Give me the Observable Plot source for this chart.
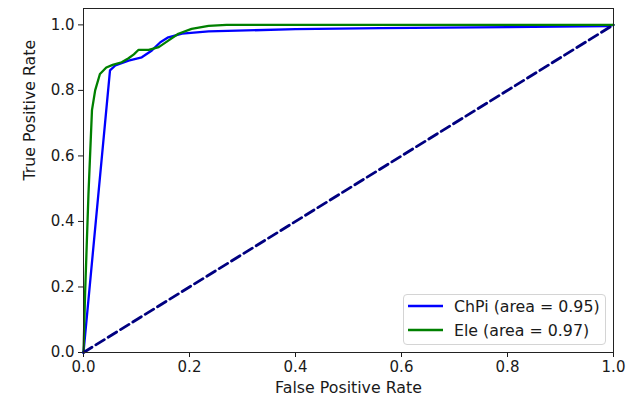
<!DOCTYPE html>
<html>
<head>
<meta charset="utf-8">
<script src="https://cdn.jsdelivr.net/npm/d3@7"></script>
<script src="https://cdn.jsdelivr.net/npm/@observablehq/plot@0.6"></script>
<style>
  html, body { margin: 0; padding: 0; background: #fff; }
  #wrap { position: relative; width: 635px; height: 401px; font-family: "DejaVu Sans", sans-serif; }
  #legend { position: absolute; left: 403px; top: 294px; width: 201px; height: 49px;
    border: 1px solid #d4d4d4; border-radius: 4px; background: rgba(255,255,255,0.8);
    font-size: 15.8px; color: #1a1a1a; }
  .item { position: absolute; left: 4px; height: 18px; display: flex; align-items: center; }
  .item svg { display: block; }
  .item span { margin-left: 11px; white-space: nowrap; }
</style>
</head>
<body>
<div id="wrap"></div>
<script>
// ROC curve data
const chpiFpr = [0, 0.05, 0.06, 0.085, 0.11, 0.129, 0.145, 0.16, 0.186, 0.236, 0.4, 0.56, 0.8, 0.99, 1];
const chpiTpr = [0, 0.861, 0.876, 0.891, 0.901, 0.922, 0.947, 0.962, 0.973, 0.980, 0.987, 0.990, 0.993, 0.996, 1];
const eleFpr = [0, 0.003, 0.0094, 0.016, 0.022, 0.031, 0.043, 0.055, 0.072, 0.085, 0.095, 0.104, 0.123, 0.142, 0.160, 0.179, 0.204, 0.236, 0.27, 1];
const eleTpr = [0, 0.18, 0.485, 0.74, 0.80, 0.85, 0.87, 0.878, 0.886, 0.898, 0.91, 0.924, 0.924, 0.932, 0.952, 0.973, 0.988, 0.997, 1.0, 1.0];
const diagFpr = [0, 1];
const diagTpr = [0, 1];
const xTicks = [0, 0.2, 0.4, 0.6, 0.8, 1.0];
const yTicks = [0, 0.2, 0.4, 0.6, 0.8, 1.0];
const seriesNames = ["ChPi (area = 0.95)", "Ele (area = 0.97)"];
const seriesColors = ["blue", "green"];

const chpi = chpiFpr.map((x, i) => ({x, y: chpiTpr[i]}));
const ele = eleFpr.map((x, i) => ({x, y: eleTpr[i]}));
const diag = diagFpr.map((x, i) => ({x, y: diagTpr[i]}));

const fmt = d3.format(".1f");
const chart = Plot.plot({
  width: 635,
  height: 401,
  marginLeft: 83,
  marginRight: 22,
  marginTop: 8,
  marginBottom: 49,
  style: {fontFamily: "DejaVu Sans, sans-serif", fontSize: "15px", color: "#1a1a1a", background: "#fff"},
  x: {domain: [0, 1]},
  y: {domain: [0, 1.05]},
  marks: [
    Plot.axisX({ticks: xTicks, tickFormat: fmt, tickSize: 5, tickPadding: 4, label: null, fontSize: 15}),
    Plot.axisY({ticks: yTicks, tickFormat: fmt, tickSize: 5, tickPadding: 4, label: null, fontSize: 15}),
    Plot.line(chpi, {x: "x", y: "y", stroke: seriesColors[0], strokeWidth: 2.3}),
    Plot.line(ele, {x: "x", y: "y", stroke: seriesColors[1], strokeWidth: 2.3}),
    Plot.line(diag, {x: "x", y: "y", stroke: "navy", strokeWidth: 2.8, strokeDasharray: "10,4.5"}),
    Plot.frame({stroke: "#222", strokeWidth: 1}),
    Plot.text(["False Positive Rate"], {frameAnchor: "bottom", dy: 40, text: d => d, fontSize: 15.8, fill: "#1a1a1a"}),
    Plot.text(["True Positive Rate"], {frameAnchor: "left", dx: -54, rotate: -90, text: d => d, fontSize: 15.8, fill: "#1a1a1a"})
  ]
});
const wrap = document.getElementById("wrap");
wrap.appendChild(chart);

const legend = document.createElement("div");
legend.id = "legend";
seriesNames.forEach((name, i) => {
  const item = document.createElement("div");
  item.className = "item";
  item.style.top = (i === 0 ? 2 : 26) + "px";
  item.innerHTML = `<svg width="35" height="6"><line x1="0" x2="35" y1="3" y2="3" stroke="${seriesColors[i]}" stroke-width="2.6"/></svg><span>${name}</span>`;
  legend.appendChild(item);
});
wrap.appendChild(legend);
</script>
</body>
</html>
